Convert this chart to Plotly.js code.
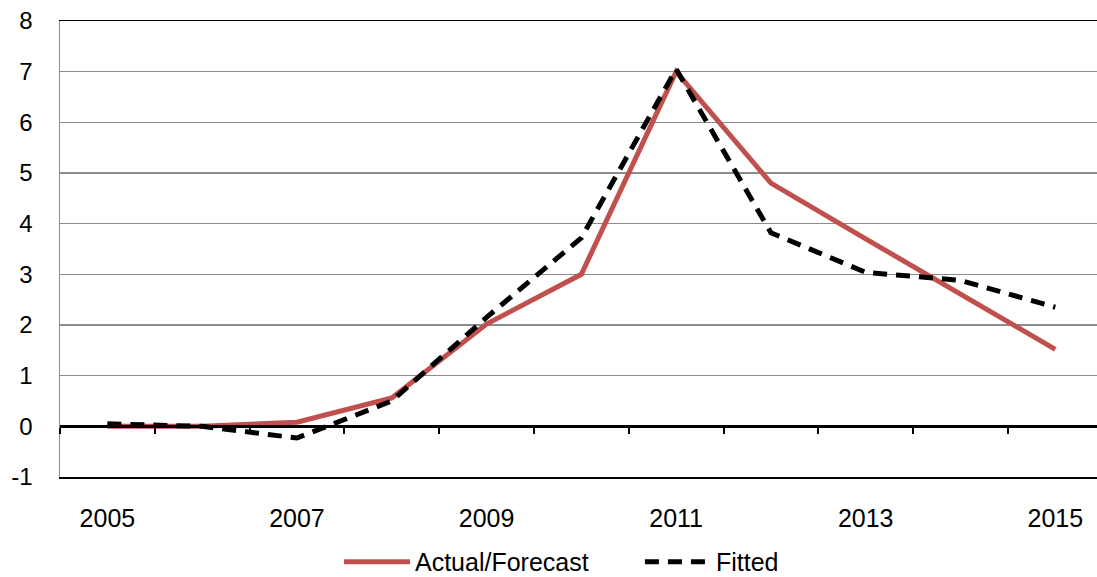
<!DOCTYPE html>
<html>
<head>
<meta charset="utf-8">
<script src="https://cdn.plot.ly/plotly-3.0.1.min.js"></script>
<style>html,body{margin:0;padding:0;background:#fff;overflow:hidden}</style>
</head>
<body>
<div id="chart" style="width:1097px;height:577px"></div>
<script>
const years = [2005, 2006, 2007, 2008, 2009, 2010, 2011, 2012, 2013, 2014, 2015];
const actualForecast = [0.0, 0.0, 0.08, 0.56, 2.02, 3.0, 7.0, 4.8, 3.7, 2.6, 1.52];
const fitted = [0.05, 0.0, -0.23, 0.5, 2.15, 3.72, 7.05, 3.82, 3.04, 2.88, 2.35];
const xTickLabels = ['2005', '2007', '2009', '2011', '2013', '2015'];
const xTickVals = [2005, 2007, 2009, 2011, 2013, 2015];
const yTickVals = [-1, 0, 1, 2, 3, 4, 5, 6, 7, 8];
const yTickLabels = ['-1', '0', '1', '2', '3', '4', '5', '6', '7', '8'];
const boundaryTicks = years.map(y => y - 0.5).concat([years[years.length - 1] + 0.5]);

const font = {family: 'Liberation Sans, Arial, sans-serif', size: 25, color: '#000'};
const yfont = {family: 'Liberation Sans, Arial, sans-serif', size: 24, color: '#000'};

const traces = [
  {x: years, y: actualForecast, name: 'Actual/Forecast', type: 'scatter', mode: 'lines',
   line: {color: '#C0504D', width: 5}},
  {x: years, y: fitted, name: 'Fitted', type: 'scatter', mode: 'lines',
   line: {color: '#000000', width: 5, dash: '14px,9px'}},
  {x: years, y: years.map(() => null), xaxis: 'x2', type: 'scatter', mode: 'lines',
   showlegend: false, hoverinfo: 'skip'}
];

const xr = [2004.5, 2015.44];
const layout = {
  width: 1097, height: 577,
  margin: {l: 60, r: 0, t: 21, b: 100, autoexpand: false},
  paper_bgcolor: '#fff', plot_bgcolor: '#fff',
  font: font,
  showlegend: true,
  legend: {orientation: 'h', x: 0.269, xanchor: 'left', yref: 'container', y: 0.026, yanchor: 'middle',
           font: font, itemwidth: 66, entrywidth: 220, traceorder: 'normal'},
  xaxis: {range: xr, tickvals: xTickVals, ticktext: xTickLabels, showgrid: false,
          zeroline: false, showline: true, linecolor: '#000', linewidth: 1.5, mirror: true,
          ticks: '', ticklabelstandoff: 18, tickfont: font, automargin: false},
  xaxis2: {range: xr, overlaying: 'x', anchor: 'free', position: 1 / 9, side: 'bottom',
           tickvals: boundaryTicks, showticklabels: false, ticks: 'outside', ticklen: 6,
           tickwidth: 2, tickcolor: '#000', showline: true, linecolor: '#000', linewidth: 2.5,
           showgrid: false, zeroline: false, automargin: false},
  yaxis: {range: [-1, 8], tickvals: yTickVals, ticktext: yTickLabels, showgrid: true,
          gridcolor: '#8c8c8c', gridwidth: 1.5, automargin: false,
          zeroline: false, showline: true, linecolor: '#8c8c8c', linewidth: 1.5,
          ticks: '', ticklabelstandoff: 21, tickfont: yfont}
};

Plotly.newPlot('chart', traces, layout, {displayModeBar: false, staticPlot: true});
</script>
</body>
</html>
